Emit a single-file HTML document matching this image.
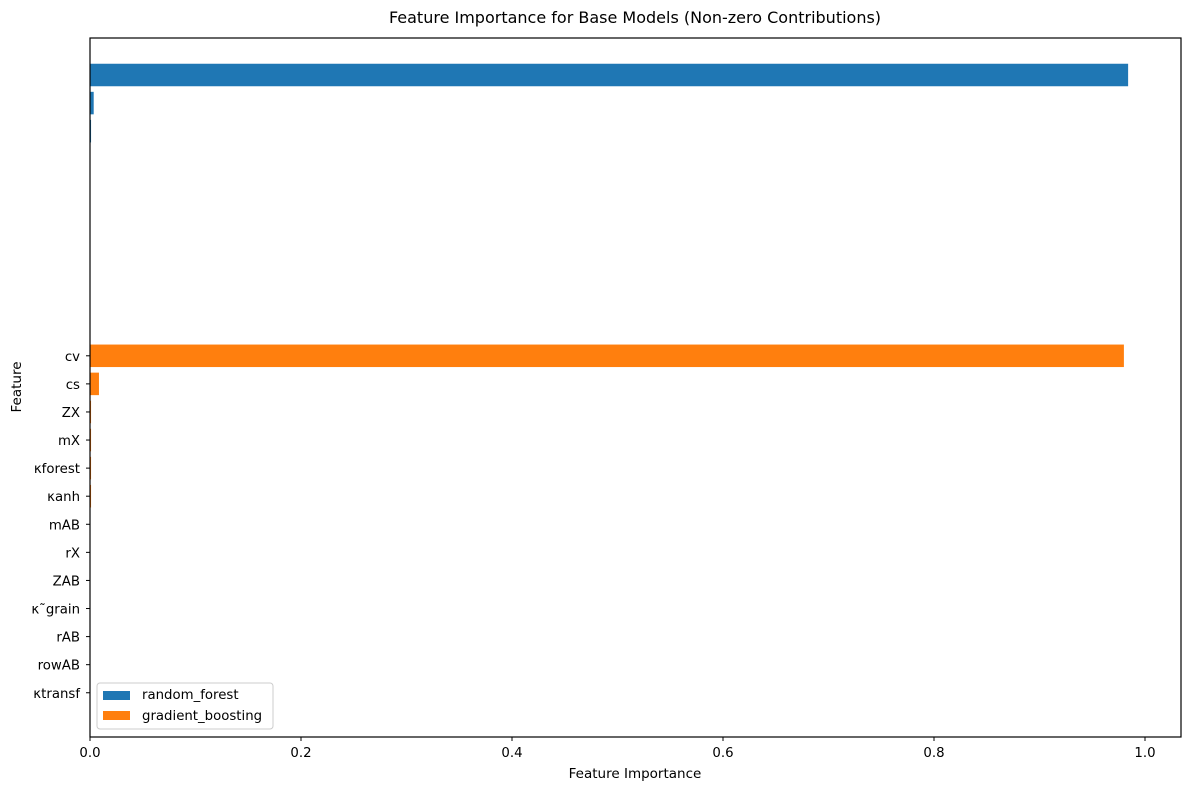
<!DOCTYPE html>
<html><head><meta charset="utf-8"><style>
body{margin:0;background:#fff}
svg{display:block;font-family:"DejaVu Sans","Liberation Sans",sans-serif}
</style></head><body>
<svg id="chart" width="1189" height="790" viewBox="0 0 1189 790" xmlns="http://www.w3.org/2000/svg">
<rect width="1189" height="790" fill="#fff"/>
<text x="635" y="23" text-anchor="middle" font-size="16" fill="#000">Feature Importance for Base Models (Non-zero Contributions)</text>
<g id="bars"></g>
<g id="yticks"></g>
<g id="xticks"></g>
<rect x="90" y="38" width="1091" height="699" fill="none" stroke="#000" stroke-width="1.2"/>
<text x="635" y="778" text-anchor="middle" font-size="13.5">Feature Importance</text>
<text transform="translate(21,387) rotate(-90)" text-anchor="middle" font-size="13.5">Feature</text>
<g>
<rect x="97" y="683" width="176" height="46" rx="3" fill="#fff" fill-opacity="0.8" stroke="#ccc"/>
<rect x="103" y="691" width="27" height="9" fill="#1f77b4"/>
<text x="142" y="699" font-size="13.3">random_forest</text>
<rect x="103" y="711" width="27" height="9" fill="#ff7f0e"/>
<text x="142" y="720" font-size="13.3">gradient_boosting</text>
</g>
</svg>
<script>
const rfValues = [0.984, 0.0035, 0.001, 0, 0, 0, 0, 0, 0, 0];
const gbCategories = ["cv","cs","ZX","mX","κforest","κanh","mAB","rX","ZAB","κ˜grain","rAB","rowAB","κtransf"];
const gbValues = [0.980, 0.0085, 0.001, 0.001, 0.001, 0.001, 0, 0, 0, 0, 0, 0, 0];
const xTicks = [0, 0.2, 0.4, 0.6, 0.8, 1.0];
const xTickLabels = ["0.0","0.2","0.4","0.6","0.8","1.0"];

const NS = "http://www.w3.org/2000/svg";
function xScale(v){ return 90 + v * 1055; }
function yScale(i){ return 75 + i * 28.08; }
const barH = 22.5;
function mk(tag, attrs, parent){
  const e = document.createElementNS(NS, tag);
  for (const k in attrs) e.setAttribute(k, attrs[k]);
  parent.appendChild(e); return e;
}
const bars = document.getElementById("bars");
rfValues.forEach((v, i) => {
  const r = mk("rect", {x: xScale(0), y: yScale(i) - barH/2, width: Math.max(0, xScale(v) - xScale(0)), height: barH, fill: "#1f77b4"}, bars);
  
  
});
const off = rfValues.length;
const yt = document.getElementById("yticks");
gbValues.forEach((v, i) => {
  const y = yScale(off + i);
  const r = mk("rect", {x: xScale(0), y: y - barH/2, width: Math.max(0, xScale(v) - xScale(0)), height: barH, fill: "#ff7f0e"}, bars);
  
  
  const t = mk("line", {x1: 86, x2: 90, y1: y, y2: y, stroke: "#000"}, yt);
  
  
  const l = mk("text", {x: 80, y: y + 5, "text-anchor": "end", "font-size": 13.3}, yt);
  l.textContent = gbCategories[i];
  
  
});
const xt = document.getElementById("xticks");
xTicks.forEach((v, i) => {
  const x = xScale(v);
  const t = mk("line", {x1: x, x2: x, y1: 737, y2: 741, stroke: "#000"}, xt);
  
  
  const l = mk("text", {x: x, y: 757, "text-anchor": "middle", "font-size": 13.3}, xt);
  l.textContent = xTickLabels[i];
  
  
});
</script>
</body></html>
